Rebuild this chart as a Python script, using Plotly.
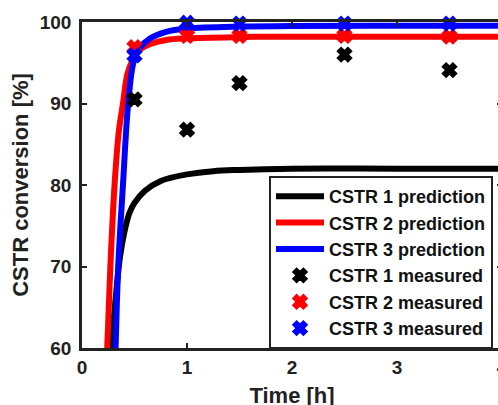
import plotly.graph_objects as go

# Prediction curves
t_pred1 = [0.28, 0.32, 0.36, 0.40, 0.45, 0.50, 0.60, 0.75, 1.00, 1.25, 1.50, 2.00, 3.00, 4.20]
y_pred1 = [60.0, 66.0, 71.0, 74.0, 76.5, 77.8, 79.3, 80.5, 81.3, 81.7, 81.85, 82.0, 82.0, 82.0]

t_pred2 = [0.24, 0.27, 0.31, 0.35, 0.39, 0.43, 0.47, 0.55, 0.65, 0.80, 1.00, 1.50, 2.00, 3.00, 4.20]
y_pred2 = [60.0, 70.0, 80.0, 86.5, 90.0, 93.5, 95.0, 96.6, 97.3, 97.8, 98.0, 98.15, 98.2, 98.2, 98.2]

t_pred3 = [0.32, 0.345, 0.39, 0.44, 0.49, 0.55, 0.65, 0.80, 1.00, 1.50, 2.00, 3.00, 4.20]
y_pred3 = [60.0, 70.0, 80.0, 90.0, 95.0, 96.8, 98.0, 98.8, 99.2, 99.45, 99.5, 99.55, 99.55]

# Measured points
t_meas = [0.5, 1.0, 1.5, 2.5, 3.5]
y_meas1 = [90.5, 86.8, 92.5, 96.0, 94.1]
y_meas2 = [96.9, 98.3, 98.3, 98.3, 98.2]
y_meas3 = [95.9, 99.9, 99.8, 99.8, 99.8]

colors = ["black", "#ff0000", "#0000ff"]
FONT = "Arial, Liberation Sans, sans-serif"

fig = go.Figure()
for i, (t, y) in enumerate([(t_pred1, y_pred1), (t_pred2, y_pred2), (t_pred3, y_pred3)]):
    fig.add_trace(go.Scatter(x=t, y=y, mode="lines", line=dict(color=colors[i], width=6, shape="spline"),
                             name=f"<b>CSTR {i+1} prediction</b>"))
for i, y in enumerate([y_meas1, y_meas2, y_meas3]):
    fig.add_trace(go.Scatter(x=t_meas, y=y, mode="markers", cliponaxis=False,
                             marker=dict(symbol="x", size=12, color=colors[i], line=dict(width=2, color=colors[i])),
                             name=f"<b>CSTR {i+1} measured</b>"))

axis_common = dict(showline=True, linewidth=2.5, linecolor="#222", mirror="ticks",
                   ticks="inside", ticklen=5, tickwidth=2, tickcolor="#222",
                   showgrid=False, zeroline=False,
                   tickfont=dict(family=FONT, size=19, color="#222"))

fig.update_layout(
    width=520, height=425,
    margin=dict(l=82, r=18, t=20, b=77),
    plot_bgcolor="white", paper_bgcolor="white",
    font=dict(family=FONT, color="#222"),
    xaxis=dict(range=[0, 4], tickvals=[0, 1, 2, 3, 4], ticktext=["<b>0</b>", "<b>1</b>", "<b>2</b>", "<b>3</b>", "<b>4</b>"],
               title=dict(text="<b>Time [h]</b>", font=dict(family=FONT, size=22, color="#222"), standoff=12),
               **axis_common),
    yaxis=dict(range=[60, 100], tickvals=[60, 70, 80, 90, 100],
               ticktext=["<b>60</b>", "<b>70</b>", "<b>80</b>", "<b>90</b>", "<b>100</b>"],
               ticklabelstandoff=4,
               title=dict(text="<b>CSTR conversion [%]</b>", font=dict(family=FONT, size=22, color="#222"), standoff=6),
               **axis_common),
    legend=dict(x=(493 - 82) / 420, y=-0.003, xanchor="right", yanchor="bottom",
                bordercolor="#222", borderwidth=2, bgcolor="white",
                font=dict(family=FONT, size=18, color="#111"), tracegroupgap=0,
                itemwidth=48),
    showlegend=True,
)

fig.write_html("out.html", post_script="document.body.style.overflow='hidden';document.documentElement.style.overflow='hidden';")
